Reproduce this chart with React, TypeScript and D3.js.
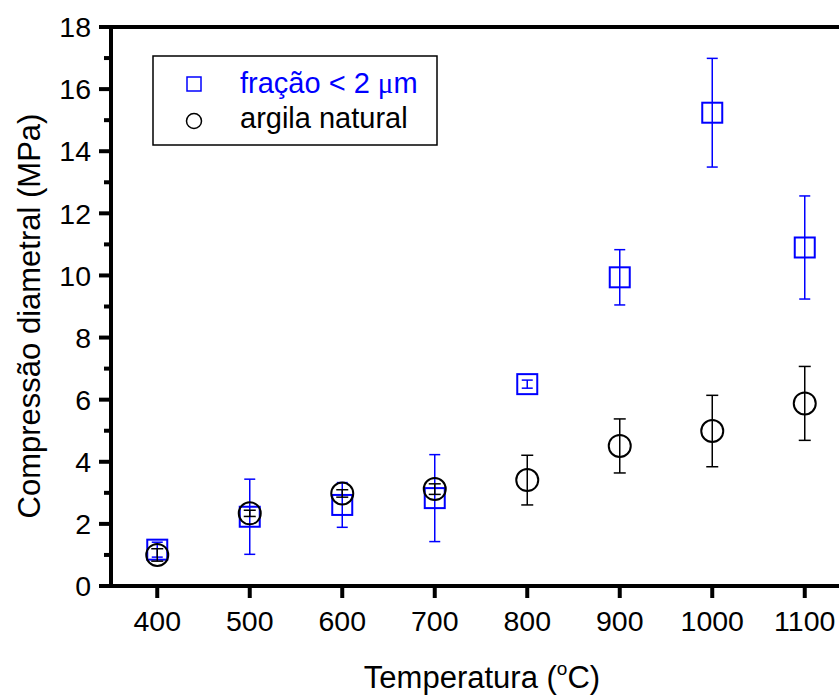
import React from "react";
import * as d3 from "d3";

const temps = [400, 500, 600, 700, 800, 900, 1000, 1100];
const fracaoMean = [1.17, 2.23, 2.61, 2.83, 6.5, 9.94, 15.24, 10.9];
const fracaoErr = [0.24, 1.21, 0.72, 1.4, 0.13, 0.89, 1.75, 1.66];
const argilaMean = [1.0, 2.34, 2.98, 3.12, 3.41, 4.51, 4.99, 5.88];
const argilaErr = [0.2, 0.1, 0.12, 0.17, 0.8, 0.87, 1.15, 1.19];

const xTicks = [400, 500, 600, 700, 800, 900, 1000, 1100];
const yTicks = [0, 2, 4, 6, 8, 10, 12, 14, 16, 18];
const yMinor = [1, 3, 5, 7, 9, 11, 13, 15, 17];

const W = 839;
const H = 695;
const FONT = "'Liberation Sans', Arial, sans-serif";
const BLUE = "#0000ff";

const App = () => {
    const x = d3.scaleLinear().domain([350, 1150]).range([111, 851]);
    const y = d3.scaleLinear().domain([0, 18]).range([586, 27]);

    const fracao = temps.map((t, i) => ({ t, v: fracaoMean[i], e: fracaoErr[i] }));
    const argila = temps.map((t, i) => ({ t, v: argilaMean[i], e: argilaErr[i] }));

    const errBar = (d, i, color, cap) => (
        <g key={i} stroke={color} strokeWidth={1.5}>
            <line x1={x(d.t)} x2={x(d.t)} y1={y(d.v - d.e)} y2={y(d.v + d.e)} />
            <line x1={x(d.t) - cap} x2={x(d.t) + cap} y1={y(d.v + d.e)} y2={y(d.v + d.e)} />
            <line x1={x(d.t) - cap} x2={x(d.t) + cap} y1={y(d.v - d.e)} y2={y(d.v - d.e)} />
        </g>
    );

    return (
        <svg
            width={W}
            height={H}
            style={{ position: "absolute", left: 0, top: 0, background: "#fff" }}
            fontFamily={FONT}
        >
            {/* blue series */}
            {fracao.map((d, i) => errBar(d, i, BLUE, 5.5))}
            {fracao.map((d, i) => (
                <rect
                    key={"s" + i}
                    x={x(d.t) - 10}
                    y={y(d.v) - 10}
                    width={20}
                    height={20}
                    fill="none"
                    stroke={BLUE}
                    strokeWidth={2}
                />
            ))}

            {/* black series */}
            {argila.map((d, i) => errBar(d, i, "#000", 6))}
            {argila.map((d, i) => (
                <circle
                    key={"c" + i}
                    cx={x(d.t)}
                    cy={y(d.v)}
                    r={11}
                    fill="none"
                    stroke="#000"
                    strokeWidth={2}
                />
            ))}

            {/* axes */}
            <g stroke="#000" strokeWidth={4}>
                <line x1={x.range()[0]} x2={W} y1={y(0)} y2={y(0)} />
                <line x1={x.range()[0]} x2={W} y1={y(18)} y2={y(18)} />
                <line x1={x.range()[0]} x2={x.range()[0]} y1={y(18) - 2} y2={y(0) + 2} />
                {yTicks.map((t) => (
                    <line key={"yt" + t} x1={x.range()[0] - 12} x2={x.range()[0]} y1={y(t)} y2={y(t)} />
                ))}
                {yMinor.map((t) => (
                    <line key={"ym" + t} x1={x.range()[0] - 7} x2={x.range()[0]} y1={y(t)} y2={y(t)} />
                ))}
                {xTicks.map((t) => (
                    <line key={"xt" + t} x1={x(t)} x2={x(t)} y1={y(0)} y2={y(0) + 12} />
                ))}
            </g>

            <g fontSize={28.5} fill="#000">
                {yTicks.map((t) => (
                    <text key={"yl" + t} x={91} y={y(t)} dy="0.36em" textAnchor="end">
                        {t}
                    </text>
                ))}
                {xTicks.map((t) => (
                    <text key={"xl" + t} x={x(t)} y={631} textAnchor="middle">
                        {t}
                    </text>
                ))}
            </g>

            {/* axis titles */}
            <text x={482} y={688} textAnchor="middle" fontSize={31}>
                Temperatura (<tspan fontSize={19} dy={-13}>o</tspan>
                <tspan dy={13}>C)</tspan>
            </text>
            <text
                transform={`translate(40, 316) rotate(-90)`}
                textAnchor="middle"
                fontSize={31}
            >
                Compressão diametral (MPa)
            </text>

            {/* legend */}
            <rect x={153} y={56} width={284} height={89} fill="none" stroke="#000" strokeWidth={1.5} />
            <rect x={187} y={77} width={14} height={14} fill="none" stroke={BLUE} strokeWidth={1.5} />
            <circle cx={194} cy={121} r={7.5} fill="none" stroke="#000" strokeWidth={1.5} />
            <text x={240} y={93} fontSize={29} fill={BLUE}>
                fração &lt; 2 <tspan fontFamily="'Liberation Serif', serif">μ</tspan>m
            </text>
            <text x={240} y={128} fontSize={29} fill="#000">
                argila natural
            </text>
        </svg>
    );
};

export default App;
